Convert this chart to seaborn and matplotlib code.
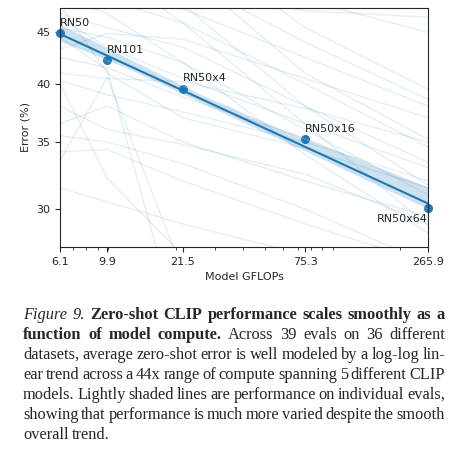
import numpy as np
import pandas as pd
import matplotlib
matplotlib.use('Agg')
import matplotlib.pyplot as plt
from matplotlib.collections import PolyCollection
import seaborn as sns
from seaborn.regression import _RegressionPlotter

# CLIP models and average zero-shot error
models = ['RN50', 'RN101', 'RN50x4', 'RN50x16', 'RN50x64']
gflops = [6.1, 9.9, 21.5, 75.3, 265.9]
avg_error = [44.9, 42.2, 39.55, 35.2, 30.05]

# individual evals (error % for each model)
eval_errors = [
    [56.0, 53.0, 50.0, 47.3, 46.6],
    [62.0, 58.0, 53.0, 48.5, 45.0],
    [70.0, 64.0, 56.0, 45.5, 39.5],
    [58.0, 55.0, 51.0, 44.0, 38.6],
    [52.0, 50.0, 47.5, 42.5, 38.0],
    [65.0, 60.0, 52.0, 41.0, 35.2],
    [50.0, 48.5, 46.0, 40.0, 34.6],
    [47.0, 45.5, 43.5, 38.0, 33.4],
    [60.0, 56.0, 48.0, 38.0, 31.7],
    [45.5, 44.5, 42.0, 36.0, 31.0],
    [55.0, 52.0, 46.0, 36.5, 28.9],
    [49.0, 47.0, 42.0, 34.0, 28.4],
    [43.3, 44.9, 44.3, 40.5, 37.0],
    [40.3, 39.0, 37.5, 35.0, 32.0],
    [33.5, 40.6, 26.0, 22.0, 20.0],
    [34.2, 34.4, 32.0, 29.0, 26.5],
    [36.5, 38.0, 35.0, 32.0, 29.5],
    [40.0, 32.2, 27.0, 24.0, 22.0],
    [44.5, 41.3, 22.0, 20.0, 18.0],
    [46.5, 43.5, 40.5, 36.5, 33.0],
    [42.5, 41.5, 38.8, 35.3, 31.5],
    [38.0, 36.0, 34.8, 32.5, 29.0],
    [35.5, 35.0, 33.3, 30.0, 26.5],
    [31.5, 30.5, 29.0, 27.0, 25.0],
    [48.0, 41.0, 37.0, 34.5, 31.5],
    [41.0, 40.5, 40.2, 37.8, 35.0],
]

err_ticks = [30, 35, 40, 45]
minor_gflops = [7, 8, 9, 10, 20, 30, 40, 50, 60, 70, 80, 90, 100, 200]

caption_lines = [
    [('Figure 9.', 'i'), ('Zero-shot CLIP performance scales smoothly as a', 'b')],
    [('function of model compute.', 'b'), ('Across 39 evals on 36 different', 'r')],
    [('datasets, average zero-shot error is well modeled by a log-log lin-', 'r')],
    [('ear trend across a 44x range of compute spanning 5 different CLIP', 'r')],
    [('models. Lightly shaded lines are performance on individual evals,', 'r')],
    [('showing that performance is much more varied despite the smooth', 'r')],
    [('overall trend.', 'r')],
]

sns.set_style('ticks')
W, H = 459, 449
fig = plt.figure(figsize=(W / 100, H / 100), dpi=100)
ax = fig.add_axes([60 / W, 1 - 247 / H, 368 / W, 239 / H])

# faint per-eval lines, in log-log space
rows = []
for i, errs in enumerate(eval_errors):
    for g, e in zip(gflops, errs):
        rows.append({'eval': i, 'log_gflops': np.log10(g), 'log_err': np.log10(e)})
evals = pd.DataFrame(rows)
sns.lineplot(data=evals, x='log_gflops', y='log_err', units='eval', estimator=None,
             color='C0', alpha=0.12, lw=1, ax=ax)

avg = pd.DataFrame({'log_gflops': np.log10(gflops), 'log_err': np.log10(avg_error)})

# pick a bootstrap seed whose band looks like the one in the paper
# (offsets of band edges from the fit, in log10 units, at 6.1 / 21.5 / 265.9)
probe = np.log10([6.1, 21.5, 265.9])
want_hi = np.array([10, 4, 20]) / 1003
want_lo = np.array([-6, -4, -4]) / 1003
best, best_ci, best_score = 0, 95, np.inf
for ci in [95, 99]:
    for s in range(300):
        p = _RegressionPlotter(avg['log_gflops'], avg['log_err'], ci=ci, seed=s)
        _, yhat, band = p.fit_regression(grid=probe)
        score = np.sum((band[1] - yhat - want_hi) ** 2 + (band[0] - yhat - want_lo) ** 2)
        if score < best_score:
            best, best_ci, best_score = s, ci, score

# average error with log-log linear fit
sns.regplot(data=avg, x='log_gflops', y='log_err', ax=ax, color='C0', seed=best, ci=best_ci,
            scatter_kws={'s': 30, 'alpha': 1, 'clip_on': False}, line_kws={'lw': 1.5})
for c in ax.collections:
    if isinstance(c, PolyCollection):
        c.set_alpha(0.22)

for m, g, e in zip(models, gflops, avg_error):
    if m == 'RN50x64':
        ax.annotate(m, (np.log10(g), np.log10(e)), xytext=(0, -4), textcoords='offset points',
                    ha='right', va='top', fontsize=8)
    else:
        ax.annotate(m, (np.log10(g), np.log10(e)), xytext=(0, 4), textcoords='offset points',
                    ha='left', va='bottom', fontsize=8)

ax.set_xlim(np.log10(gflops[0]), np.log10(gflops[-1]))
ax.set_ylim(np.log10(27.5), np.log10(47.6))
ax.set_xticks(np.log10(gflops), labels=[str(g) for g in gflops], fontsize=8)
ax.set_xticks(np.log10(minor_gflops), minor=True)
ax.set_yticks(np.log10(err_ticks), labels=[str(t) for t in err_ticks], fontsize=8)
ax.set_xlabel('Model GFLOPs', fontsize=8)
ax.set_ylabel('Error (%)', fontsize=8)

# caption, justified like in the paper
styles = {'i': {'style': 'italic'}, 'b': {'weight': 'bold'}, 'r': {}}
renderer = fig.canvas.get_renderer()
x0, x1 = 23, 445
for li, segs in enumerate(caption_lines):
    y = 1 - (319 + 20 * li) / H
    words = []
    for text, st in segs:
        for w in text.split():
            t = fig.text(0, y, w, family='Liberation Serif', fontsize=11.8,
                         va='baseline', ha='left', **styles[st])
            words.append((t, t.get_window_extent(renderer).width))
    total = sum(w for _, w in words)
    if li < len(caption_lines) - 1:
        gap = (x1 - x0 - total) / (len(words) - 1)
    else:
        gap = 3.5
    x = x0
    for t, w in words:
        t.set_x(x / W)
        x += w + gap

fig.savefig('out.png', dpi=100)
